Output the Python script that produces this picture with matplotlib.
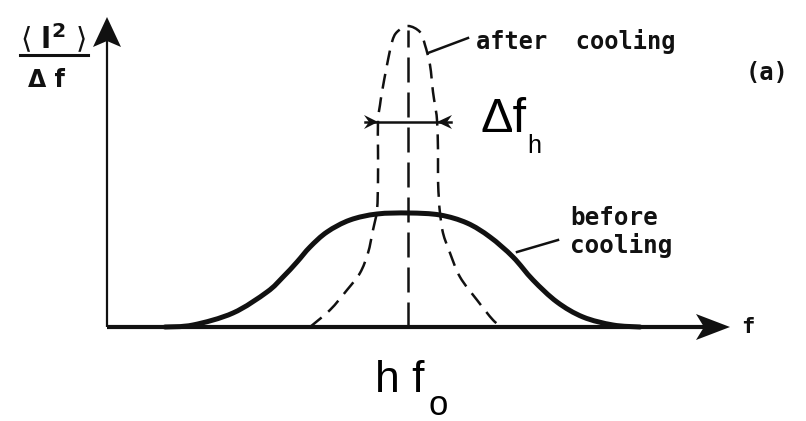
import matplotlib
matplotlib.use("Agg")
import matplotlib.pyplot as plt
from matplotlib.patches import Polygon, PathPatch
from matplotlib.path import Path

# Noise spectrum sketch: frequency offset f (from axis origin) vs. <I^2>/Δf
# Broad spectrum before cooling
f_before = [58, 86, 126, 160, 176, 190, 203, 220, 243, 270, 302, 333, 360,
            383, 406, 426, 450, 476, 506, 533]
s_before = [0, 2, 14, 35, 50, 65, 80, 95, 107, 113, 114, 112, 104,
            90, 70, 47, 25, 10, 2, 0]

# Narrow spectrum after cooling
f_after = [203, 223, 240, 253, 261, 266, 270, 271, 271, 271, 273, 275, 280,
           285, 290, 301, 313, 318, 323, 326, 328, 330, 331, 331, 332, 333,
           336, 343, 353, 370, 386, 395]
s_after = [0, 17, 37, 54, 74, 97, 117, 147, 177, 207, 222, 235, 262,
           285, 295, 301, 295, 282, 262, 235, 222, 207, 177, 147, 127, 114,
           94, 74, 50, 27, 7, 0]

# Line centre (h f0) and the width marker Δf_h
f_center = 301
center_top = 297
width_level = 205
width_left, width_right = 271, 330

W, H = 806, 421
OX, OY = 107, 327  # pixel location of the axis origin


def px(x, y):
    """Pixel position in the figure -> data coordinates."""
    return x - OX, OY - y


def smooth_path(xs, ys):
    """Cubic Bezier path passing through every given point (Catmull-Rom)."""
    pts = list(zip(xs, ys))
    pts = [pts[0]] + pts + [pts[-1]]
    verts = [pts[1]]
    codes = [Path.MOVETO]
    for i in range(1, len(pts) - 2):
        p0, p1, p2, p3 = pts[i - 1], pts[i], pts[i + 1], pts[i + 2]
        c1 = (p1[0] + (p2[0] - p0[0]) / 6, p1[1] + (p2[1] - p0[1]) / 6)
        c2 = (p2[0] - (p3[0] - p1[0]) / 6, p2[1] - (p3[1] - p1[1]) / 6)
        verts += [c1, c2, p2]
        codes += [Path.CURVE4] * 3
    return Path(verts, codes)


fig = plt.figure(figsize=(W / 100, H / 100), dpi=100)
ax = fig.add_axes([0, 0, 1, 1])
ax.set_xlim(-OX, W - OX)
ax.set_ylim(OY - H, OY)
ax.axis("off")

ink = "#111111"

# Axes with arrow heads
x_tip = px(730, 0)[0]
y_tip = px(0, 17)[1]
ax.plot([0, x_tip - 20], [0, 0], color=ink, lw=3.0, solid_capstyle="butt")
ax.plot([0, 0], [0, y_tip - 20], color=ink, lw=1.6, solid_capstyle="butt")
ax.add_patch(Polygon([(x_tip, 0), (x_tip - 34, 13), (x_tip - 26, 0), (x_tip - 34, -13)],
                     closed=True, color=ink, lw=0))
ax.add_patch(Polygon([(0, y_tip), (-14, y_tip - 30), (0, y_tip - 24), (14, y_tip - 30)],
                     closed=True, color=ink, lw=0))

# Spectra
ax.add_patch(PathPatch(smooth_path(f_before, s_before), fill=False, edgecolor=ink,
                       lw=3.6, capstyle="round", joinstyle="round"))
ax.add_patch(PathPatch(smooth_path(f_after, s_after), fill=False, edgecolor=ink,
                       lw=1.8, linestyle=(0, (6, 3.5)), capstyle="butt"))
ax.plot([f_center, f_center], [0, center_top], color=ink, lw=1.8,
        dashes=(10, 4))

# Width marker with inward arrows
ax.plot([width_left - 13, width_right + 14], [width_level, width_level],
        color=ink, lw=1.8)
ax.add_patch(Polygon([(width_left, width_level), (width_left - 14, width_level + 7),
                      (width_left - 9, width_level), (width_left - 14, width_level - 7)],
                     closed=True, color=ink, lw=0))
ax.add_patch(Polygon([(width_right, width_level), (width_right + 15, width_level + 7),
                      (width_right + 10, width_level), (width_right + 15, width_level - 7)],
                     closed=True, color=ink, lw=0))

# Leader lines
ax.plot(*zip(px(428, 53), px(468, 38)), color=ink, lw=1.8)
ax.plot(*zip(px(517, 252), px(558, 240)), color=ink, lw=1.8)

sketch = dict(family=["DejaVu Sans Mono"], fontweight="bold", color=ink)

ax.text(*px(476, 42), "after  cooling", fontsize=17, ha="left", va="center", **sketch)
ax.text(*px(570, 218), "before", fontsize=17.5, ha="left", va="center", **sketch)
ax.text(*px(570, 246), "cooling", fontsize=17.5, ha="left", va="center", **sketch)
ax.text(*px(767, 73), "(a)", fontsize=17, ha="center", va="center", **sketch)
ax.text(*px(741, 327), "f", fontsize=16, ha="left", va="center", **sketch)

# Vertical axis label as a fraction
ax.text(*px(53, 49), r"$\langle\,\, \mathbf{l}^{\mathbf{2}}\,\, \rangle$", fontsize=21,
        ha="center", va="baseline", color=ink)
ax.plot(*zip(px(20, 55), px(88, 55)), color=ink, lw=2.2)
ax.text(*px(46, 87), "Δ f", fontsize=17, ha="center", va="baseline",
        family=["DejaVu Sans"], fontweight="bold", color=ink)

# Physics labels
plain = dict(family=["Liberation Sans", "DejaVu Sans"], color="black")
ax.text(*px(481, 132), "Δf", fontsize=35, ha="left", va="baseline", **plain)
ax.text(*px(527, 153), "h", fontsize=18, ha="left", va="baseline", **plain)
ax.text(*px(375, 392), "h f", fontsize=32, ha="left", va="baseline", **plain)
ax.text(*px(429, 415), "o", fontsize=25, ha="left", va="baseline", **plain)

fig.savefig("out.png", dpi=100)
